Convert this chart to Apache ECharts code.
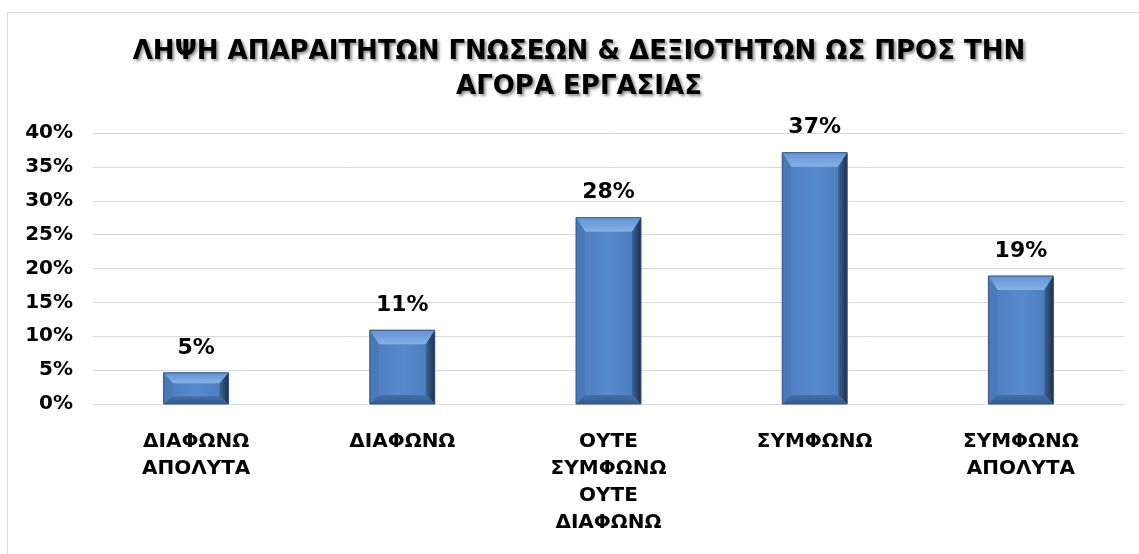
<!DOCTYPE html>
<html>
<head>
<meta charset="utf-8">
<script src="https://cdn.jsdelivr.net/npm/echarts@6/dist/echarts.min.js"></script>
<style>
  html, body { margin: 0; padding: 0; background: #fff; }
  #chart { width: 1139px; height: 554px; }
</style>
</head>
<body>
<div id="chart"></div>
<script>
var titleText = 'ΛΗΨΗ ΑΠΑΡΑΙΤΗΤΩΝ ΓΝΩΣΕΩΝ & ΔΕΞΙΟΤΗΤΩΝ ΩΣ ΠΡΟΣ ΤΗΝ\nΑΓΟΡΑ ΕΡΓΑΣΙΑΣ';
var categories = ['ΔΙΑΦΩΝΩ\nΑΠΟΛΥΤΑ', 'ΔΙΑΦΩΝΩ', 'ΟΥΤΕ\nΣΥΜΦΩΝΩ\nΟΥΤΕ\nΔΙΑΦΩΝΩ', 'ΣΥΜΦΩΝΩ', 'ΣΥΜΦΩΝΩ\nΑΠΟΛΥΤΑ'];
var values = [4.6, 10.9, 27.5, 37.1, 18.9];
var valueLabels = ['5%', '11%', '28%', '37%', '19%'];

var font = 'DejaVu Sans';
var chart = echarts.init(document.getElementById('chart'));

// bevelled excel-style column
function renderBar(params, api) {
    var top = api.coord([api.value(0), api.value(1)]);
    var base = api.coord([api.value(0), 0]);
    var w = api.size([1, 0])[0] * 0.315;
    var x0 = top[0] - w / 2, x1 = top[0] + w / 2;
    var y0 = top[1], y1 = base[1];
    var h = y1 - y0;
    var s = Math.min(9, h / 3);      // side bevel
    var t = Math.min(14, h / 3);     // top bevel
    var t2 = Math.min(9, h / 4);     // bottom bevel
    return {
        type: 'group',
        children: [{
            type: 'rect',
            shape: { x: x0, y: y0, width: w, height: h },
            style: {
                fill: new echarts.graphic.LinearGradient(0, 0, 1, 0, [
                    { offset: 0, color: '#4c7cbd' },
                    { offset: 0.5, color: '#568ace' },
                    { offset: 1, color: '#4a7ab9' }
                ])
            }
        }, {
            type: 'polygon',
            shape: { points: [[x0, y0], [x1, y0], [x1 - s, y0 + t], [x0 + s, y0 + t]] },
            style: {
                fill: new echarts.graphic.LinearGradient(0, 0, 0, 1, [
                    { offset: 0, color: '#6393d2' },
                    { offset: 1, color: '#86b1e6' }
                ])
            }
        }, {
            type: 'polygon',
            shape: { points: [[x0, y0], [x0 + s, y0 + t], [x0 + s, y1 - t2], [x0, y1]] },
            style: { fill: '#4a79b8' }
        }, {
            type: 'polygon',
            shape: { points: [[x1, y0], [x1, y1], [x1 - s, y1 - t2], [x1 - s, y0 + t]] },
            style: {
                fill: new echarts.graphic.LinearGradient(0, 0, 1, 0, [
                    { offset: 0, color: '#3d6396' },
                    { offset: 1, color: '#1c304f' }
                ])
            }
        }, {
            type: 'polygon',
            shape: { points: [[x0, y1], [x0 + s, y1 - t2], [x1 - s, y1 - t2], [x1, y1]] },
            style: {
                fill: new echarts.graphic.LinearGradient(0, 0, 0, 1, [
                    { offset: 0, color: '#4570a8' },
                    { offset: 1, color: '#355b8e' }
                ])
            }
        }, {
            type: 'rect',
            shape: { x: x0, y: y0, width: w, height: h },
            style: { fill: null, stroke: '#34547f', lineWidth: 1 }
        }, {
            type: 'text',
            style: {
                text: valueLabels[params.dataIndex],
                x: top[0],
                y: y0 - 14,
                align: 'center',
                verticalAlign: 'bottom',
                font: 'bold 22px "' + font + '"',
                fill: '#000'
            }
        }]
    };
}

var option = {
    backgroundColor: '#fff',
    title: {
        text: titleText,
        left: 574,
        textAlign: 'center',
        top: 30,
        textStyle: {
            fontFamily: font,
            fontWeight: 'bold',
            fontSize: 26,
            lineHeight: 35,
            color: '#000',
            textShadowColor: 'rgba(0,0,0,0.45)',
            textShadowBlur: 3,
            textShadowOffsetX: 2,
            textShadowOffsetY: 2
        }
    },
    graphic: [{
        type: 'rect',
        shape: { x: 7.5, y: 12.5, width: 1200, height: 700 },
        style: { fill: null, stroke: '#d9d9d9', lineWidth: 1 },
        silent: true,
        z: -1
    }],
    grid: {
        left: 93,
        right: 15,
        top: 133,
        bottom: 150,
        containLabel: false
    },
    xAxis: {
        type: 'category',
        data: categories,
        axisLine: { show: true, lineStyle: { color: '#d9d9d9' } },
        axisTick: { show: false },
        axisLabel: {
            margin: 24,
            fontFamily: font,
            fontWeight: 'bold',
            fontSize: 20,
            lineHeight: 27,
            color: '#000',
            interval: 0
        }
    },
    yAxis: {
        type: 'value',
        min: 0,
        max: 40,
        interval: 5,
        axisLine: { show: false },
        axisTick: { show: false },
        splitLine: { lineStyle: { color: '#d9d9d9', width: 1 } },
        axisLabel: {
            margin: 20,
            formatter: '{value}%',
            fontFamily: font,
            fontWeight: 'bold',
            fontSize: 20,
            color: '#000'
        }
    },
    series: [{
        type: 'custom',
        renderItem: renderBar,
        encode: { x: 0, y: 1 },
        data: values.map(function (v, i) { return [i, v]; }),
        clip: false
    }]
};
chart.setOption(option);
</script>
</body>
</html>
